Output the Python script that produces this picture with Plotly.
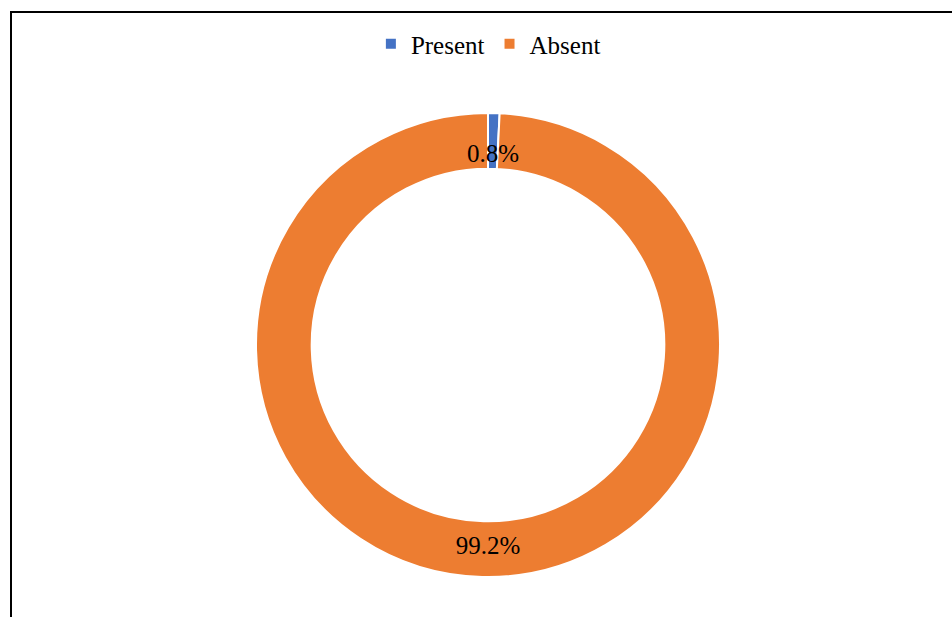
import math
import plotly.graph_objects as go

labels = ["Present", "Absent"]
values = [0.8, 99.2]
colors = ["#4472C4", "#ED7D31"]

W, H = 952, 617
cx, cy, r = 488, 345, 232
hole = 0.76
FONT = "Liberation Serif, serif"
FS = 25

total = sum(values)
text_labels = [f"{v:.1f}%" for v in values]

fig = go.Figure(go.Pie(
    labels=labels,
    values=values,
    hole=hole,
    sort=False,
    direction="clockwise",
    rotation=0,
    marker=dict(colors=colors, line=dict(color="white", width=2)),
    text=["", text_labels[1]],
    texttemplate="%{text}",
    textposition=["none", "inside"],
    insidetextorientation="horizontal",
    textfont=dict(family=FONT, size=FS, color="black"),
    domain=dict(x=[(cx - r) / W, (cx + r) / W], y=[(H - cy - r) / H, (H - cy + r) / H]),
    hoverinfo="label+percent",
))

# label for the thin slice, at its mid-angle on the ring's mid radius
mid_angle = math.radians(values[0] / total * 360 / 2)
rm = r * (1 + hole) / 2
ax = cx + rm * math.sin(mid_angle)
ay = cy - rm * math.cos(mid_angle) - 3

fig.update_layout(
    width=W, height=H,
    margin=dict(l=0, r=0, t=0, b=0),
    paper_bgcolor="white",
    plot_bgcolor="white",
    font=dict(family=FONT, size=FS, color="black"),
    uniformtext=dict(minsize=FS, mode="show"),
    legend=dict(orientation="h", x=0.513, xanchor="center", y=1 - 44 / H, yanchor="middle",
                font=dict(family=FONT, size=FS, color="black"),
                itemwidth=30, traceorder="normal"),
    annotations=[dict(x=ax / W, y=1 - ay / H, xref="paper", yref="paper",
                      text=text_labels[0], showarrow=False,
                      font=dict(family=FONT, size=FS, color="black"))],
    shapes=[dict(type="rect", xref="paper", yref="paper",
                 x0=11 / W, x1=1.05, y0=-0.05, y1=1 - 12 / H,
                 line=dict(color="black", width=2))],
)

fig.write_html("out.html")
